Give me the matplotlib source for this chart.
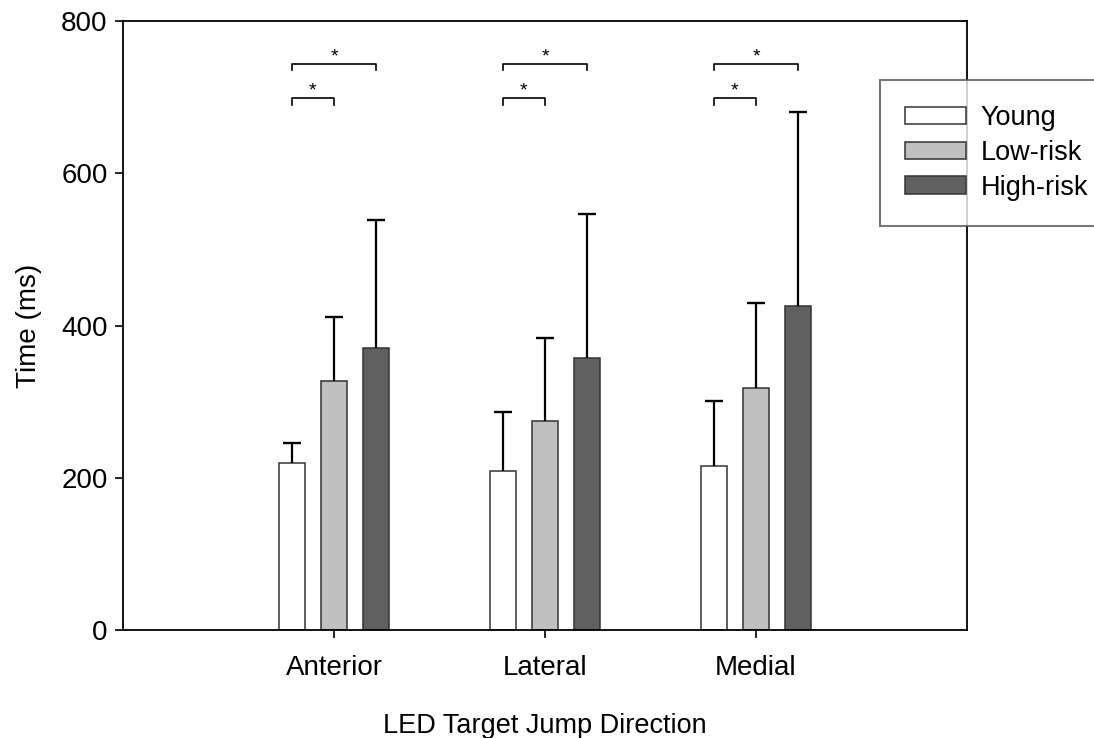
import numpy as np
import matplotlib
matplotlib.use('Agg')
import matplotlib.pyplot as plt

plt.rcParams['font.family'] = ['Liberation Sans', 'DejaVu Sans']

directions = ['Anterior', 'Lateral', 'Medial']
groups = ['Young', 'Low-risk', 'High-risk']

# mean and SD (ms)
young_mean = [219, 209, 216]
young_sd = [27, 77, 85]
low_mean = [327, 275, 318]
low_sd = [84, 108, 111]
high_mean = [371, 357, 425]
high_sd = [168, 190, 256]

# significance brackets per direction: (from group, to group, height)
sig_pairs = [('Young', 'High-risk', 744), ('Young', 'Low-risk', 699)]

colors = ['white', '#c0c0c0', '#606060']

fig = plt.figure(figsize=(10.94, 7.38), dpi=100)
ax = fig.add_axes([123/1094, 1 - 630/738, (967 - 123)/1094, (630 - 21)/738])

x = np.arange(len(directions))
offsets = [-0.2, 0.0, 0.2]
width = 0.121
means = [young_mean, low_mean, high_mean]
sds = [young_sd, low_sd, high_sd]

handles = []
for i in range(3):
    m = np.array(means[i])
    s = np.array(sds[i])
    b = ax.bar(x + offsets[i], m, width, color=colors[i],
               edgecolor='#333333', linewidth=1.1, label=groups[i], zorder=2)
    handles.append(b)
    # upper error bar only, cap at the top end
    ax.errorbar(x + offsets[i], m, yerr=[np.zeros(3), s],
                fmt='none', ecolor='black', elinewidth=1.6, capsize=0, zorder=3)
    ax.plot(x + offsets[i], m + s, ls='none', marker='_', markersize=12.5,
            mew=1.7, color='black', zorder=3)

# significance brackets
tick = 9
for xi in x:
    for g1, g2, h in sig_pairs:
        x1 = xi + offsets[groups.index(g1)]
        x2 = xi + offsets[groups.index(g2)]
        ax.plot([x1, x1, x2, x2], [h - tick, h, h, h - tick], color='black', lw=1.2)
        ax.text((x1 + x2) / 2, h + 3, '*', ha='center', va='baseline', fontsize=14)

ax.set_xlim(-1, 3)
ax.set_ylim(0, 800)
ax.set_yticks([0, 200, 400, 600, 800])
ax.set_xticks(x)
ax.set_xticklabels(directions)
ax.tick_params(axis='both', direction='out', length=6, width=1.2, labelsize=20)
ax.tick_params(axis='x', pad=12)
ax.tick_params(axis='y', pad=5)
for sp in ax.spines.values():
    sp.set_linewidth(1.3)

ax.set_xlabel('LED Target Jump Direction', fontsize=19.5, labelpad=23)
ax.set_ylabel('Time (ms)', fontsize=20, labelpad=14)

leg = fig.legend(handles=handles, labels=groups, loc='upper left',
                 bbox_to_anchor=(880/1094, 1 - 80/738), borderaxespad=0,
                 fontsize=19.5, frameon=True, fancybox=False,
                 handlelength=2.25, handleheight=0.62, handletextpad=0.55,
                 labelspacing=0.33, borderpad=0.92)
leg.get_frame().set_edgecolor('#555555')
leg.get_frame().set_linewidth(1.5)
leg.set_zorder(5)

fig.savefig('out.png', dpi=100)
